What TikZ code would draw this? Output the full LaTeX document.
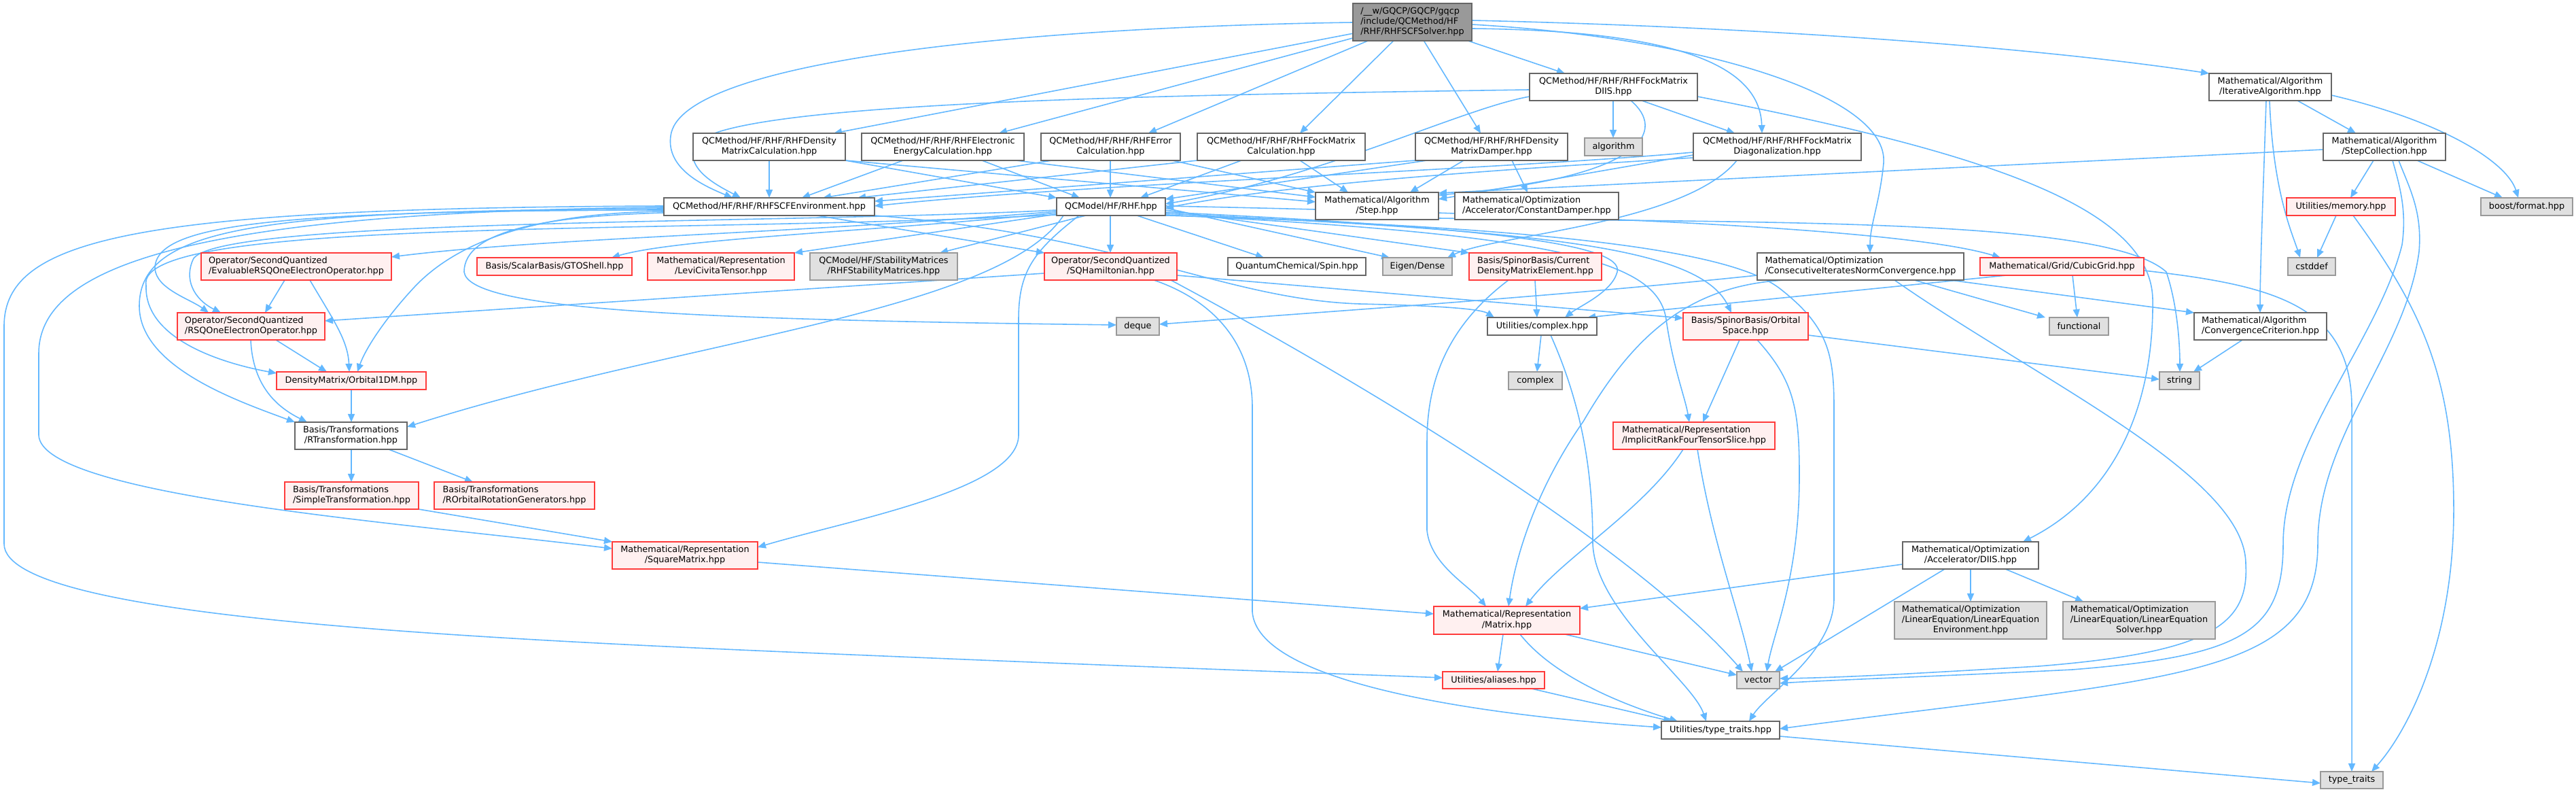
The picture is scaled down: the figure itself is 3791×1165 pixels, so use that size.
\documentclass[tikz,border=0pt]{standalone}
\usepackage{fontspec}
\newfontfamily\nf{DejaVu Sans}
\usetikzlibrary{arrows.meta,calc}
\definecolor{edgec}{HTML}{63B8FF}
\definecolor{redb}{HTML}{FF3B3B}
\definecolor{redf}{HTML}{FFF0F0}
\definecolor{grayf}{HTML}{E0E0E0}
\definecolor{grayb}{HTML}{999999}
\definecolor{darkb}{HTML}{666666}
\definecolor{topf}{HTML}{999999}
\pgfdeclarelayer{bglayer}\pgfdeclarelayer{edgelayer}
\pgfsetlayers{bglayer,edgelayer,main}
\newcommand\twol[2]{\begin{tabular}{@{}l@{}}#1\\\multicolumn{1}{@{}c@{}}{#2}\end{tabular}}
\newcommand\threel[3]{\begin{tabular}{@{}l@{}}#1\\#2\\\multicolumn{1}{@{}c@{}}{#3}\end{tabular}}
\newcommand\gnode[7]{\node[#6, minimum width={(#4-#2)*0.01cm}, minimum height={(#5-#3)*0.01cm}] (#1) at ({(#2+#4)/2},{(#3+#5)/2}) {#7};}
\tikzset{
 box/.style={rectangle, inner sep=0pt, outer sep=0pt, line width=0.5pt, font=\nf\fontsize{3.65}{4.27}\selectfont, text=black},
 wb/.style={box, draw=darkb, fill=white},
 rb/.style={box, draw=redb, fill=redf},
 gb/.style={box, draw=grayb, fill=grayf},
 topb/.style={box, draw=darkb, fill=topf},
 dep/.style={draw=edgec, line width=0.45pt, -{Triangle[length=0.12cm,width=0.1cm]}},
}
\begin{document}
\begin{tikzpicture}[x=0.01cm,y=-0.01cm]
\begin{pgfonlayer}{bglayer}
\fill[white] (0,0) rectangle (3791,1165);
\end{pgfonlayer}
\useasboundingbox (0,0) rectangle (3791,1165);
% nodes
\gnode{T}{1991}{5}{2166}{60}{topb}{\threel{/\_\_w/GQCP/GQCP/gqcp}{/include/QCMethod/HF}{/RHF/RHFSCFSolver.hpp}}
\gnode{DIIS}{2251}{108}{2498}{148}{wb}{\twol{QCMethod/HF/RHF/RHFFockMatrix}{DIIS.hpp}}
\gnode{IA}{3251}{108}{3431}{148}{wb}{\twol{Mathematical/Algorithm}{/IterativeAlgorithm.hpp}}
\gnode{DMC}{1020}{196}{1244}{236}{wb}{\twol{QCMethod/HF/RHF/RHFDensity}{MatrixCalculation.hpp}}
\gnode{EE}{1268}{196}{1507}{236}{wb}{\twol{QCMethod/HF/RHF/RHFElectronic}{EnergyCalculation.hpp}}
\gnode{EC}{1532}{196}{1737}{236}{wb}{\twol{QCMethod/HF/RHF/RHFError}{Calculation.hpp}}
\gnode{FC}{1762}{196}{2009}{236}{wb}{\twol{QCMethod/HF/RHF/RHFFockMatrix}{Calculation.hpp}}
\gnode{DM}{2083}{196}{2307}{236}{wb}{\twol{QCMethod/HF/RHF/RHFDensity}{MatrixDamper.hpp}}
\gnode{algorithm}{2332}{203}{2417}{229}{gb}{algorithm}
\gnode{DG}{2492}{196}{2739}{236}{wb}{\twol{QCMethod/HF/RHF/RHFFockMatrix}{Diagonalization.hpp}}
\gnode{SC}{3419}{196}{3599}{236}{wb}{\twol{Mathematical/Algorithm}{/StepCollection.hpp}}
\gnode{ENV}{977}{291}{1287}{317}{wb}{QCMethod/HF/RHF/RHFSCFEnvironment.hpp}
\gnode{RHF}{1555}{291}{1715}{317}{wb}{QCModel/HF/RHF.hpp}
\gnode{Step}{1936}{283}{2117}{323}{wb}{\twol{Mathematical/Algorithm}{/Step.hpp}}
\gnode{CD}{2141}{283}{2382}{323}{wb}{\twol{Mathematical/Optimization}{/Accelerator/ConstantDamper.hpp}}
\gnode{memory}{3365}{291}{3525}{317}{rb}{Utilities/memory.hpp}
\gnode{boost}{3651}{291}{3786}{317}{gb}{boost/format.hpp}
\gnode{EV}{296}{372}{576}{412}{rb}{\twol{Operator/SecondQuantized}{/EvaluableRSQOneElectronOperator.hpp}}
\gnode{GTO}{702}{379}{930}{405}{rb}{Basis/ScalarBasis/GTOShell.hpp}
\gnode{Levi}{953}{372}{1169}{412}{rb}{\twol{Mathematical/Representation}{/LeviCivitaTensor.hpp}}
\gnode{Stab}{1192}{372}{1409}{412}{gb}{\twol{QCModel/HF/StabilityMatrices}{/RHFStabilityMatrices.hpp}}
\gnode{SQH}{1537}{372}{1732}{412}{rb}{\twol{Operator/SecondQuantized}{/SQHamiltonian.hpp}}
\gnode{Spin}{1807}{379}{2010}{405}{wb}{QuantumChemical/Spin.hpp}
\gnode{Dense}{2035}{379}{2137}{405}{gb}{Eigen/Dense}
\gnode{CDME}{2162}{372}{2357}{412}{rb}{\twol{Basis/SpinorBasis/Current}{DensityMatrixElement.hpp}}
\gnode{CI}{2586}{372}{2890}{412}{wb}{\twol{Mathematical/Optimization}{/ConsecutiveIteratesNormConvergence.hpp}}
\gnode{Cubic}{2914}{379}{3155}{405}{rb}{Mathematical/Grid/CubicGrid.hpp}
\gnode{cstddef}{3367}{379}{3437}{405}{gb}{cstddef}
\gnode{RSQ}{261}{460}{478}{500}{rb}{\twol{Operator/SecondQuantized}{/RSQOneElectronOperator.hpp}}
\gnode{deque}{1643}{467}{1706}{493}{gb}{deque}
\gnode{complexU}{2189}{467}{2350}{493}{wb}{Utilities/complex.hpp}
\gnode{OS}{2477}{460}{2661}{500}{rb}{\twol{Basis/SpinorBasis/Orbital}{Space.hpp}}
\gnode{functional}{3016}{467}{3103}{493}{gb}{functional}
\gnode{CC}{3229}{460}{3424}{500}{wb}{\twol{Mathematical/Algorithm}{/ConvergenceCriterion.hpp}}
\gnode{O1DM}{407}{547}{627}{573}{rb}{DensityMatrix/Orbital1DM.hpp}
\gnode{complex}{2220}{547}{2299}{573}{gb}{complex}
\gnode{string}{3178}{547}{3237}{573}{gb}{string}
\gnode{RT}{434}{621}{599}{661}{wb}{\twol{Basis/Transformations}{/RTransformation.hpp}}
\gnode{IRF}{2374}{621}{2612}{661}{rb}{\twol{Mathematical/Representation}{/ImplicitRankFourTensorSlice.hpp}}
\gnode{Simple}{419}{709}{616}{749}{rb}{\twol{Basis/Transformations}{/SimpleTransformation.hpp}}
\gnode{ROrb}{639}{709}{875}{749}{rb}{\twol{Basis/Transformations}{/ROrbitalRotationGenerators.hpp}}
\gnode{SqM}{901}{797}{1115}{837}{rb}{\twol{Mathematical/Representation}{/SquareMatrix.hpp}}
\gnode{AccDIIS}{2800}{797}{3000}{837}{wb}{\twol{Mathematical/Optimization}{/Accelerator/DIIS.hpp}}
\gnode{LEE}{2788}{885}{3012}{940}{gb}{\threel{Mathematical/Optimization}{/LinearEquation/LinearEquation}{Environment.hpp}}
\gnode{LES}{3036}{885}{3260}{940}{gb}{\threel{Mathematical/Optimization}{/LinearEquation/LinearEquation}{Solver.hpp}}
\gnode{Matrix}{2110}{892}{2325}{933}{rb}{\twol{Mathematical/Representation}{/Matrix.hpp}}
\gnode{aliases}{2123}{988}{2273}{1013}{rb}{Utilities/aliases.hpp}
\gnode{vector}{2556}{988}{2619}{1013}{gb}{vector}
\gnode{TTH}{2445}{1061}{2619}{1087}{wb}{Utilities/type\_traits.hpp}
\gnode{TT}{3415}{1135}{3507}{1160}{gb}{type\_traits}
% edges
\begin{pgfonlayer}{edgelayer}
% top node
\draw[dep] (T.west |- 0,33) .. controls (1500,40) and (1000,90) .. (987,200) .. controls (980,250) and (1040,275) .. (ENV.north -| 1078,0);
\draw[dep] (T) -- (DMC.north -| 1227,0);
\draw[dep] (T) -- (EE.north -| 1470,0);
\draw[dep] (T) -- (EC.north -| 1690,0);
\draw[dep] (T) -- (FC.north -| 1913,0);
\draw[dep] (T) -- (DM.north -| 2179,0);
\draw[dep] (T) -- (DIIS.north -| 2303,0);
\draw[dep] (T.east |- 0,42) .. controls (2450,45) and (2590,90) .. (DG.north -| 2593,0);
\draw[dep] (T.east |- 0,30) .. controls (2600,40) and (3000,70) .. (IA.north west);
\draw[dep] (T.east |- 0,36) .. controls (2500,55) and (2780,140) .. (2772,240) .. controls (2766,300) and (2752,330) .. (CI.north -| 2752,0);
% DMC
\draw[dep] (DMC.south -| 1132,0) -- (ENV.north -| 1132,0);
\draw[dep] (DMC.south east) -- (RHF.north west);
\draw[dep] (DMC.south east) -- (Step.west |- 0,297);
% EE
\draw[dep] (EE.south -| 1329,0) -- (ENV.north -| 1180,0);
\draw[dep] (EE.south -| 1445,0) -- (RHF.north -| 1589,0);
\draw[dep] (EE.south -| 1495,0) -- (Step.west |- 0,290);
% EC
\draw[dep] (EC.south -| 1548,0) -- (ENV.north -| 1211,0);
\draw[dep] (EC.south -| 1634,0) -- (RHF.north -| 1634,0);
\draw[dep] (EC.south -| 1725,0) -- (Step.north west);
% FC
\draw[dep] (FC.south west) -- (ENV.north -| 1262,0);
\draw[dep] (FC.south -| 1827,0) -- (RHF.north -| 1678,0);
\draw[dep] (FC.south -| 1913,0) -- (Step.north -| 1984,0);
% DM
\draw[dep] (DM.south west) -- (ENV.east |- 0,296);
\draw[dep] (DM.south -| 2100,0) -- (RHF.east |- 0,293);
\draw[dep] (DM.south -| 2154,0) -- (Step.north -| 2075,0);
\draw[dep] (DM.south -| 2225,0) -- (CD.north -| 2248,0);
% DIIS
\draw[dep] (DIIS.south -| 2374,0) -- (algorithm.north -| 2374,0);
\draw[dep] (DIIS.south -| 2416,0) -- (DG.north -| 2553,0);
\draw[dep] (DIIS.west |- 0,132) .. controls (1700,140) and (1050,150) .. (1022,215) .. controls (1008,250) and (1060,275) .. (ENV.north -| 1090,0);
\draw[dep] (DIIS.west |- 0,142) .. controls (2150,160) and (1950,260) .. (RHF.east |- 0,300);
\draw[dep] (DIIS.south -| 2400,0) .. controls (2450,190) and (2430,260) .. (Step.east |- 0,287);
\draw[dep] (DIIS.east |- 0,142) .. controls (2900,220) and (3165,300) .. (3168,440) .. controls (3170,600) and (3110,730) .. (AccDIIS.north -| 2977,0);
% DG
\draw[dep] (DG.south -| 2556,0) .. controls (2480,330) and (2200,345) .. (Dense.north -| 2130,0);
\draw[dep] (DG.west |- 0,228) -- (Step.east |- 0,293);
\draw[dep] (DG.west |- 0,224) .. controls (2200,250) and (1600,270) .. (ENV.east |- 0,303);
\draw[dep] (DG.west |- 0,232) .. controls (2200,250) and (1900,270) .. (RHF.east |- 0,306);
% IA
\draw[dep] (IA.south -| 3381,0) -- (SC.north -| 3467,0);
\draw[dep] (IA.east |- 0,140) .. controls (3600,180) and (3690,240) .. (boost.north -| 3706,0);
\draw[dep] (IA.south -| 3340,0) .. controls (3345,280) and (3372,340) .. (cstddef.north -| 3385,0);
\draw[dep] (IA.south -| 3335,0) .. controls (3330,300) and (3326,400) .. (CC.north -| 3326,0);
% SC
\draw[dep] (SC.west |- 0,220) -- (Step.east |- 0,284);
\draw[dep] (SC.south -| 3493,0) -- (memory.north -| 3459,0);
\draw[dep] (SC.south -| 3557,0) -- (boost.north -| 3683,0);
\draw[dep] (SC.south -| 3521,0) .. controls (3532,275) and (3542,310) .. (3535,360) .. controls (3500,500) and (3360,650) .. (3360,800) .. controls (3360,930) and (3300,965) .. (3050,985) .. controls (2850,995) and (2700,1000) .. (vector.east |- 0,1005);
\draw[dep] (SC.south -| 3530,0) .. controls (3545,275) and (3565,310) .. (3560,370) .. controls (3540,520) and (3411,640) .. (3411,800) .. controls (3411,1000) and (3200,995) .. (TTH.east |- 0,1072);
% memory
\draw[dep] (memory.south -| 3438,0) -- (cstddef.north -| 3410,0);
\draw[dep] (memory.south -| 3463,0) .. controls (3560,450) and (3611,550) .. (3611,750) .. controls (3611,950) and (3540,1080) .. (TT.north -| 3490,0);
% Step
\draw[dep] (Step.east |- 0,321) .. controls (2600,328) and (3100,320) .. (3188,400) .. controls (3205,450) and (3208,510) .. (string.north -| 3208,0);
% ENV
\draw[dep] (ENV.west |- 0,303) .. controls (200,306) and (6,350) .. (6,480) -- (6,800) .. controls (6,910) and (700,940) .. (1300,965) .. controls (1700,982) and (2000,992) .. (aliases.west |- 0,997);
\draw[dep] (ENV.west |- 0,305) .. controls (250,312) and (57,400) .. (57,520) -- (57,640) .. controls (60,730) and (600,770) .. (SqM.west |- 0,807);
\draw[dep] (ENV.west |- 0,307) .. controls (400,310) and (205,330) .. (205,450) .. controls (205,540) and (350,590) .. (RT.north west);
\draw[dep] (ENV.west |- 0,309) .. controls (400,310) and (228,330) .. (228,395) .. controls (230,425) and (280,440) .. (RSQ.north -| 307,0);
\draw[dep] (ENV.west |- 0,311) .. controls (800,313) and (680,350) .. (612,420) .. controls (565,470) and (537,515) .. (O1DM.north -| 526,0);
\draw[dep] (ENV.west |- 0,313) .. controls (800,318) and (683,340) .. (683,400) .. controls (690,455) and (1000,470) .. (deque.west |- 0,478);
\draw[dep] (ENV.south -| 1202,0) -- (SQH.north west);
\draw[dep] (ENV.south east) .. controls (1650,345) and (1800,440) .. (2000,447) .. controls (2130,450) and (2180,455) .. (complexU.north -| 2199,0);
% RHF left side
\draw[dep] (RHF.west |- 0,309) .. controls (1150,330) and (330,320) .. (285,380) .. controls (270,410) and (285,440) .. (RSQ.north -| 325,0);
\draw[dep] (RHF.west |- 0,311) .. controls (1150,345) and (800,350) .. (EV.east |- 0,378);
\draw[dep] (RHF.west |- 0,313) .. controls (1300,340) and (1000,350) .. (GTO.north -| 900,0);
\draw[dep] (RHF.west |- 0,315) -- (Levi.north east);
\draw[dep] (RHF.south -| 1598,0) -- (Stab.north -| 1383,0);
\draw[dep] (RHF.west |- 0,316) .. controls (1000,345) and (195,318) .. (215,420) .. controls (212,500) and (330,535) .. (O1DM.west |- 0,549);
\draw[dep] (RHF.south -| 1565,0) .. controls (1470,460) and (1000,500) .. (RT.east |- 0,628);
\draw[dep] (RHF.south -| 1588,0) .. controls (1520,370) and (1499,400) .. (1499,470) -- (1499,640) .. controls (1499,720) and (1250,765) .. (SqM.east |- 0,805);
% RHF down / right side
\draw[dep] (RHF.south -| 1634,0) -- (SQH.north -| 1634,0);
\draw[dep] (RHF.south -| 1673,0) -- (Spin.north -| 1860,0);
\draw[dep] (RHF.east |- 0,306) -- (Dense.north -| 2045,0);
\draw[dep] (RHF.east |- 0,309) -- (CDME.north west);
\draw[dep] (RHF.east |- 0,312) .. controls (2200,335) and (2390,360) .. (2380,400) .. controls (2372,430) and (2325,450) .. (complexU.north -| 2303,0);
\draw[dep] (RHF.east |- 0,314) .. controls (2250,340) and (2500,360) .. (OS.north -| 2548,0);
\draw[dep] (RHF.east |- 0,316) .. controls (2300,345) and (2440,385) .. (2452,470) .. controls (2462,540) and (2480,585) .. (IRF.north -| 2486,0);
\draw[dep] (RHF.east |- 0,303) .. controls (2300,315) and (2800,335) .. (Cubic.north -| 2944,0);
\draw[dep] (RHF.east |- 0,317) .. controls (2300,335) and (2550,370) .. (2620,425) .. controls (2690,480) and (2699,520) .. (2699,600) -- (2699,880) .. controls (2699,960) and (2600,1020) .. (TTH.north -| 2574,0);
% others
\draw[dep] (EV.south -| 419,0) -- (RSQ.north -| 390,0);
\draw[dep] (EV.south -| 456,0) .. controls (490,470) and (512,500) .. (O1DM.north -| 514,0);
\draw[dep] (RSQ.south -| 406,0) -- (O1DM.north -| 481,0);
\draw[dep] (RSQ.south -| 369,0) .. controls (372,570) and (410,600) .. (RT.north -| 452,0);
\draw[dep] (O1DM.south -| 517,0) -- (RT.north -| 517,0);
\draw[dep] (RT.south -| 517,0) -- (Simple.north -| 517,0);
\draw[dep] (RT.south -| 572,0) -- (ROrb.north -| 696,0);
\draw[dep] (Simple.south east) -- (SqM.north west);
\draw[dep] (SQH.west |- 0,402) -- (RSQ.east |- 0,472);
\draw[dep] (SQH.south -| 1698,0) .. controls (1780,440) and (1843,500) .. (1843,600) -- (1843,900) .. controls (1850,1000) and (2150,1050) .. (TTH.west |- 0,1070);
\draw[dep] (SQH.east |- 0,405) -- (OS.west |- 0,468);
\draw[dep] (SQH.south -| 1723,0) .. controls (2000,560) and (2400,800) .. (vector.north -| 2565,0);
\draw[dep] (CDME.south -| 2259,0) -- (complexU.north -| 2262,0);
\draw[dep] (CDME.south -| 2220,0) .. controls (2130,480) and (2100,560) .. (2100,650) -- (2100,780) .. controls (2105,830) and (2160,860) .. (Matrix.north -| 2187,0);
\draw[dep] (complexU.south -| 2268,0) -- (complex.north -| 2262,0);
\draw[dep] (complexU.south -| 2282,0) .. controls (2330,600) and (2344,700) .. (2344,800) .. controls (2348,900) and (2490,1000) .. (TTH.north -| 2511,0);
\draw[dep] (OS.south -| 2560,0) -- (IRF.north -| 2506,0);
\draw[dep] (OS.east |- 0,493) -- (string.west |- 0,558);
\draw[dep] (OS.south -| 2586,0) .. controls (2640,560) and (2648,600) .. (2648,700) .. controls (2648,850) and (2610,930) .. (vector.north -| 2600,0);
\draw[dep] (IRF.south -| 2477,0) .. controls (2420,750) and (2300,820) .. (Matrix.north -| 2245,0);
\draw[dep] (IRF.south -| 2498,0) .. controls (2520,800) and (2560,900) .. (vector.north -| 2578,0);
\draw[dep] (Matrix.south -| 2212,0) -- (aliases.north -| 2204,0);
\draw[dep] (Matrix.south -| 2303,0) -- (vector.west |- 0,993);
\draw[dep] (Matrix.south -| 2237,0) .. controls (2290,1000) and (2400,1040) .. (TTH.north -| 2469,0);
\draw[dep] (aliases.south -| 2254,0) -- (TTH.north -| 2460,0);
\draw[dep] (SqM.east |- 0,827) -- (Matrix.west |- 0,903);
\draw[dep] (TTH.east |- 0,1083) -- (TT.west |- 0,1152);
\draw[dep] (AccDIIS.west |- 0,830) -- (Matrix.east |- 0,895);
\draw[dep] (AccDIIS.south -| 2862,0) -- (vector.north -| 2612,0);
\draw[dep] (AccDIIS.south -| 2900,0) -- (LEE.north -| 2900,0);
\draw[dep] (AccDIIS.south -| 2951,0) -- (LES.north -| 3066,0);
\draw[dep] (CI.south -| 2870,0) -- (CC.north west);
\draw[dep] (CI.south -| 2817,0) -- (functional.north -| 3010,0);
\draw[dep] (CI.west |- 0,405) .. controls (2300,435) and (2000,455) .. (deque.east |- 0,477);
\draw[dep] (CI.south -| 2788,0) .. controls (3000,560) and (3305,700) .. (3305,830) .. controls (3310,920) and (3250,960) .. (3000,980) .. controls (2800,992) and (2700,997) .. (vector.east |- 0,998);
\draw[dep] (CI.south -| 2627,0) .. controls (2480,420) and (2400,500) .. (2330,620) .. controls (2260,720) and (2230,820) .. (Matrix.north -| 2220,0);
\draw[dep] (Cubic.south -| 3050,0) -- (functional.north -| 3057,0);
\draw[dep] (Cubic.east |- 0,398) .. controls (3350,420) and (3461,450) .. (3461,600) -- (TT.north -| 3461,0);
\draw[dep] (Cubic.south -| 2953,0) -- (complexU.north -| 2336,0);
\draw[dep] (CC.south -| 3300,0) -- (string.north -| 3228,0);
\end{pgfonlayer}
\end{tikzpicture}
\end{document}
